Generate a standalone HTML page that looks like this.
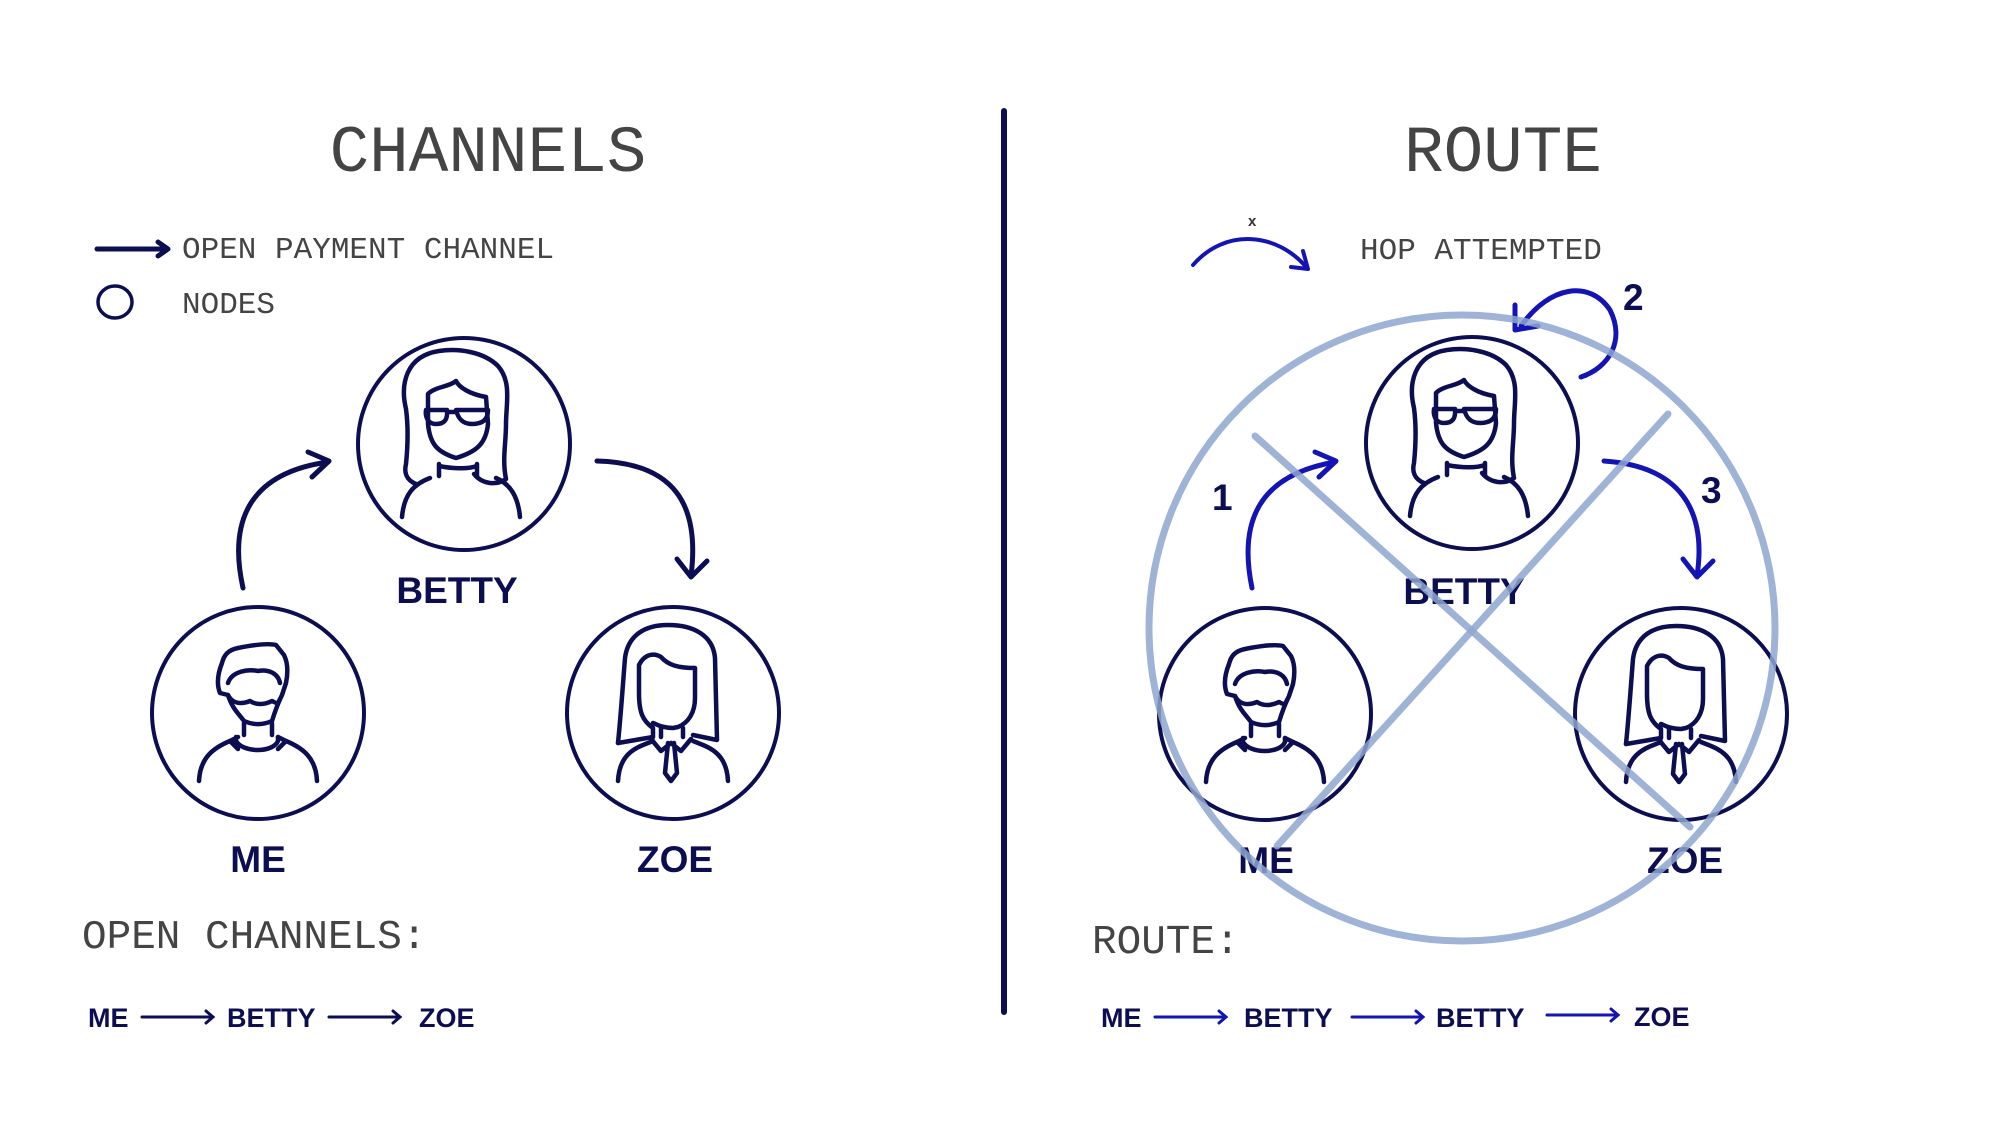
<!DOCTYPE html>
<html><head><meta charset="utf-8"><style>
html,body{margin:0;padding:0;background:#fff}
svg{display:block}
.mono{font-family:"Liberation Mono",monospace;fill:#444}
.b{font-family:"Liberation Sans",sans-serif;font-weight:bold;fill:#0d0d52}
</style></head><body>
<svg width="2000" height="1125" viewBox="0 0 2000 1125" xmlns="http://www.w3.org/2000/svg">
<defs>
<g id="betty" fill="none" stroke="#0d0d52" stroke-width="4.5" stroke-linecap="round" stroke-linejoin="round">
  <circle r="106" stroke-width="4"/>
  <path d="M-62,73 C-60,50 -50,40 -34,34 M56,73 C54,52 46,40 32,34"/>
  <path d="M-48,40 C-58,36 -60,28 -58,20 C-56,0 -56,-20 -58,-35 C-64,-60 -58,-88 -25,-93 C-5,-96 20,-92 34,-78 C48,-62 42,-40 42,-20 C42,0 38,15 42,35 C32,42 18,40 10,30"/>
  <path d="M-36,-50 C-30,-57 -15,-57 -8,-63 C-5,-57 5,-50 22,-47 L24,-20 C22,0 12,8 -8,14 C-27,8 -34,0 -36,-20 Z"/>
  <path d="M-38,-34 L-17,-34 C-16,-24 -20,-20 -28,-20 C-36,-20 -39,-27 -38,-34 Z M-8,-34 L24,-34 C24,-24 18,-20 8,-20 C-2,-20 -6,-26 -8,-34 Z M-17,-32 L-8,-32"/>
  <path d="M-25,20 L-25,32 M13,20 L13,32 M-25,22 C-10,25 5,25 13,22"/>
</g>
<g id="me" fill="none" stroke="#0d0d52" stroke-width="4.5" stroke-linecap="round" stroke-linejoin="round">
  <circle r="106" stroke-width="4"/>
  <path d="M-59,68 C-58,45 -45,35 -28,28 L-20,24 M59,68 C58,45 45,35 28,28 L20,24"/>
  <path d="M-28,28 L-20,36 M28,28 L20,36 M-22,24 L-22,28 C-15,40 15,40 20,28 L20,24"/>
  <path d="M-14,10 L-14,22 M14,10 L14,22"/>
  <path d="M-38,-20 C-42,-30 -40,-40 -36,-50 C-34,-58 -30,-63 -20,-65 C-5,-68 10,-70 18,-68 L26,-58 C30,-50 30,-40 28,-30 L24,-18 C20,-10 18,-5 14,8 C5,12 -5,12 -14,8 C-20,0 -26,-5 -30,-18 Z"/>
  <path d="M-30,-18 C-26,-10 -18,-8 -8,-12 C-2,-8 6,-8 14,-12 C18,-10 20,-8 22,-14"/>
  <path d="M-30,-30 C-26,-42 -10,-44 0,-42 C10,-44 20,-40 22,-30"/>
</g>
<g id="zoe" fill="none" stroke="#0d0d52" stroke-width="4.5" stroke-linecap="round" stroke-linejoin="round">
  <circle r="106" stroke-width="4"/>
  <path d="M-55,68 C-54,48 -45,38 -30,32 L-20,28 M55,68 C54,48 45,38 30,32 L20,28"/>
  <path d="M-55,30 C-52,0 -50,-30 -48,-55 C-45,-78 -28,-88 -5,-88 C20,-88 40,-78 42,-55 L44,27 L20,22"/>
  <path d="M-55,30 L-20,24 L-20,15 C-30,8 -34,0 -34,-20 L-34,-48 C-28,-60 -18,-60 -12,-56 C-5,-48 5,-45 22,-45 L22,-15 C22,0 15,10 5,14 L0,15 C-10,15 -15,12 -20,10"/>
  <path d="M-12,15 L-12,24 M10,15 L10,24 M-22,26 L-12,38 L-2,30 L8,38 L18,26 M-5,30 L-8,60 L-2,68 L4,60 L1,30"/>
</g>
</defs>

<line x1="1004" y1="111" x2="1004" y2="1012" stroke="#0d0d52" stroke-width="6" stroke-linecap="round"/>

<!-- LEFT -->
<text x="488" y="171" text-anchor="middle" class="mono" font-size="66">CHANNELS</text>
<path d="M97,249 L166,249" stroke="#0d0d52" stroke-width="5" stroke-linecap="round"/>
<path d="M158,242 L168,249 L158,256" fill="none" stroke="#0d0d52" stroke-width="5" stroke-linecap="round" stroke-linejoin="round"/>
<text x="182" y="258" class="mono" font-size="31">OPEN PAYMENT CHANNEL</text>
<ellipse cx="115" cy="302" rx="17" ry="16" fill="none" stroke="#0d0d52" stroke-width="3.5"/>
<text x="182" y="313" class="mono" font-size="31">NODES</text>

<use href="#betty" x="464" y="444"/>
<use href="#me" x="258" y="713"/>
<use href="#zoe" x="673" y="713"/>
<text x="457" y="603" text-anchor="middle" class="b" font-size="37">BETTY</text>
<text x="258" y="872" text-anchor="middle" class="b" font-size="37">ME</text>
<text x="675" y="872" text-anchor="middle" class="b" font-size="37">ZOE</text>

<g fill="none" stroke="#0d0d52" stroke-width="5" stroke-linecap="round" stroke-linejoin="round">
  <path d="M243,588 C228,520 250,473 328,462"/>
  <path d="M308,452 L329,461 L312,477"/>
  <path d="M597,461 C675,463 700,505 691,576"/>
  <path d="M677,559 L691,577 L707,561"/>
</g>

<text x="82" y="948" class="mono" font-size="41">OPEN CHANNELS:</text>
<g class="b" font-size="27">
<text x="88" y="1027">ME</text><text x="227" y="1027">BETTY</text><text x="419" y="1027">ZOE</text>
</g>
<g fill="none" stroke="#0d0d52" stroke-width="3" stroke-linecap="round">
  <path d="M142,1017 L213,1017 M206,1011 L213,1017 L206,1023"/>
  <path d="M329,1017 L400,1017 M393,1011 L400,1017 L393,1023"/>
</g>

<!-- RIGHT -->
<g transform="translate(-5,0)">
<text x="1508" y="171" text-anchor="middle" class="mono" font-size="66">ROUTE</text>
<g fill="none" stroke="#1414b4" stroke-width="4" stroke-linecap="round" stroke-linejoin="round">
  <path d="M1198,265 C1230,228 1282,232 1312,268"/>
  <path d="M1296,267 L1313,269 L1308,251"/>
</g>
<text x="1253" y="226" font-family="Liberation Sans,sans-serif" font-weight="bold" font-size="15" fill="#333">x</text>
<text x="1365" y="259" class="mono" font-size="31">HOP ATTEMPTED</text>

<use href="#betty" x="1477" y="443"/>
<use href="#me" x="1270" y="714"/>
<use href="#zoe" x="1686" y="714"/>
<text x="1469" y="604" text-anchor="middle" class="b" font-size="37">BETTY</text>
<text x="1271" y="873" text-anchor="middle" class="b" font-size="37">ME</text>
<text x="1690" y="873" text-anchor="middle" class="b" font-size="37">ZOE</text>

<g fill="none" stroke="#1414b4" stroke-width="5" stroke-linecap="round" stroke-linejoin="round">
  <path d="M1257,588 C1243,520 1265,475 1340,462"/>
  <path d="M1320,452 L1341,461 L1324,477"/>
  <path d="M1586,377 C1615,367 1630,340 1615,310 C1595,280 1555,285 1526,326"/>
  <path d="M1520,305 L1520,330 L1543,326"/>
  <path d="M1609,461 C1685,466 1712,510 1702,576"/>
  <path d="M1688,559 L1702,577 L1718,561"/>
</g>
<g class="b" font-size="37"><text x="1217" y="510">1</text><text x="1628" y="310">2</text><text x="1706" y="503">3</text></g>

<g fill="none" stroke="#8ea6cf" stroke-opacity="0.85" stroke-width="7" stroke-linecap="round">
  <circle cx="1467" cy="628" r="313"/>
  <path d="M1260,436 L1695,827"/>
  <path d="M1673,414 L1282,846"/>
</g>

<text x="1097" y="953" class="mono" font-size="41">ROUTE:</text>
<g class="b" font-size="27">
<text x="1106" y="1027">ME</text><text x="1249" y="1027">BETTY</text><text x="1441" y="1027">BETTY</text><text x="1639" y="1026">ZOE</text>
</g>
<g fill="none" stroke="#1414b4" stroke-width="3" stroke-linecap="round">
  <path d="M1160,1017 L1231,1017 M1224,1011 L1231,1017 L1224,1023"/>
  <path d="M1357,1017 L1428,1017 M1421,1011 L1428,1017 L1421,1023"/>
  <path d="M1552,1015 L1623,1015 M1616,1009 L1623,1015 L1616,1021"/>
</g>
</g>
</svg>
</body></html>
